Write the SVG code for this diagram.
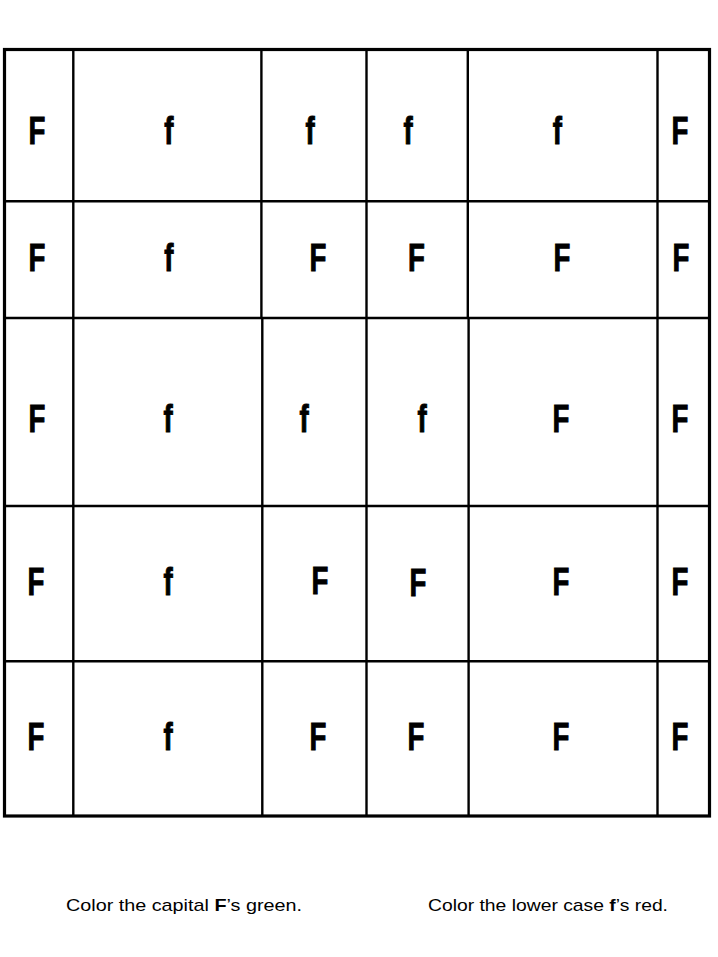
<svg xmlns="http://www.w3.org/2000/svg" width="718" height="957" viewBox="0 0 718 957">
<style>
.g{stroke:#000;stroke-width:2.4;fill:none}
.o{stroke:#000;stroke-width:3.2;fill:none}
.L{font-family:"Liberation Sans",Arial,sans-serif;font-weight:bold;font-size:39.5px;fill:#000;stroke:#000;stroke-width:1;stroke-linejoin:miter;text-anchor:middle}
.t{font-family:"Liberation Sans",Arial,sans-serif;font-size:17px;fill:#000}
.b{font-weight:bold}
</style>
<rect width="718" height="957" fill="#fff"/>
<g id="grid">
<line class="g" x1="4" y1="201.3" x2="710" y2="201.3"/>
<line class="g" x1="4" y1="318" x2="710" y2="318"/>
<line class="g" x1="4" y1="506" x2="710" y2="506"/>
<line class="g" x1="4" y1="661.3" x2="710" y2="661.3"/>
<line class="g" x1="73.3" y1="49" x2="73.3" y2="816"/>
<line class="g" x1="261.4" y1="49" x2="261.4" y2="318"/>
<line class="g" x1="262.3" y1="318" x2="262.3" y2="816"/>
<line class="g" x1="366.5" y1="49" x2="366.5" y2="816"/>
<line class="g" x1="467.8" y1="49" x2="467.8" y2="318"/>
<line class="g" x1="468.6" y1="318" x2="468.6" y2="816"/>
<line class="g" x1="657.5" y1="49" x2="657.5" y2="816"/>
<rect class="o" x="4.5" y="49.5" width="705" height="766.5"/>
</g>
<g id="cells" transform="scale(0.7,1)">
<g id="r1c1"><text class="L" x="52.9" y="143.7">F</text></g>
<g id="r1c2"><text class="L" x="241.4" y="143.7">f</text></g>
<g id="r1c3"><text class="L" x="442.9" y="143.7">f</text></g>
<g id="r1c4"><text class="L" x="582.9" y="143.7">f</text></g>
<g id="r1c5"><text class="L" x="796.4" y="143.7">f</text></g>
<g id="r1c6"><text class="L" x="971.4" y="143.7">F</text></g>

<g id="r2c1"><text class="L" x="52.9" y="270.7">F</text></g>
<g id="r2c2"><text class="L" x="241.4" y="270.7">f</text></g>
<g id="r2c3"><text class="L" x="454.3" y="270.7">F</text></g>
<g id="r2c4"><text class="L" x="595" y="270.7">F</text></g>
<g id="r2c5"><text class="L" x="802.9" y="270.7">F</text></g>
<g id="r2c6"><text class="L" x="972.9" y="270.7">F</text></g>

<g id="r3c1"><text class="L" x="52.9" y="431.7">F</text></g>
<g id="r3c2"><text class="L" x="240" y="431.7">f</text></g>
<g id="r3c3"><text class="L" x="434.3" y="431.7">f</text></g>
<g id="r3c4"><text class="L" x="602.9" y="431.7">f</text></g>
<g id="r3c5"><text class="L" x="801.4" y="431.7">F</text></g>
<g id="r3c6"><text class="L" x="971.4" y="431.7">F</text></g>

<g id="r4c1"><text class="L" x="51.4" y="594.7">F</text></g>
<g id="r4c2"><text class="L" x="240" y="594.7">f</text></g>
<g id="r4c3"><text class="L" x="457.1" y="593.7">F</text></g>
<g id="r4c4"><text class="L" x="597.1" y="595.7">F</text></g>
<g id="r4c5"><text class="L" x="801.4" y="594.7">F</text></g>
<g id="r4c6"><text class="L" x="971.4" y="594.7">F</text></g>

<g id="r5c1"><text class="L" x="51.4" y="749.7">F</text></g>
<g id="r5c2"><text class="L" x="240" y="749.7">f</text></g>
<g id="r5c3"><text class="L" x="454.3" y="749.7">F</text></g>
<g id="r5c4"><text class="L" x="594.3" y="749.7">F</text></g>
<g id="r5c5"><text class="L" x="801.4" y="749.7">F</text></g>
<g id="r5c6"><text class="L" x="971.4" y="749.7">F</text></g>
</g>
<g id="instructions">
<text class="t" x="66" y="911" textLength="236" lengthAdjust="spacingAndGlyphs">Color the capital <tspan class="b">F</tspan>’s green.</text>
<text class="t" x="428" y="911" textLength="240" lengthAdjust="spacingAndGlyphs">Color the lower case <tspan class="b">f</tspan>’s red.</text>
</g>
</svg>
